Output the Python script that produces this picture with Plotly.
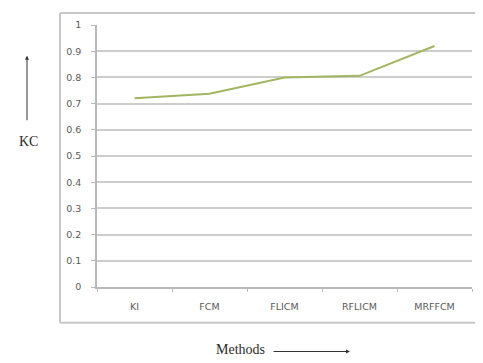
import plotly.graph_objects as go

methods = ["KI", "FCM", "FLICM", "RFLICM", "MRFFCM"]
kc_values = [0.72, 0.738, 0.80, 0.806, 0.92]
y_ticks = [0, 0.1, 0.2, 0.3, 0.4, 0.5, 0.6, 0.7, 0.8, 0.9, 1]
y_tick_text = ["0", "0.1", "0.2", "0.3", "0.4", "0.5", "0.6", "0.7", "0.8", "0.9", "1"]

OFF = 8  # page body margin
W, H = 483 - OFF, 363 - OFF
L, T = 97 - OFF, 23 - OFF
R = W - (472 - OFF)
B = H - (287 - OFF)
pw, ph = W - L - R, H - T - B

def px(x):
    return (x - OFF - L) / pw

def py(y):
    return (H - B - (y - OFF)) / ph

tick_font = dict(family="DejaVu Sans", size=9.5, color="#5a5a5a")
serif = dict(family="Liberation Serif, Times New Roman", size=14, color="#2a2a2a")
frame_line = dict(color="#c8c8c8", width=2)

fig = go.Figure()
fig.add_trace(go.Scatter(
    x=methods, y=kc_values, mode="lines",
    line=dict(color="#a2b660", width=2),
    hoverinfo="skip", showlegend=False,
))

fig.update_layout(
    width=W, height=H,
    margin=dict(l=L, r=R, t=T, b=B),
    paper_bgcolor="white", plot_bgcolor="white",
    xaxis=dict(
        type="category", range=[-0.5, 4.5],
        showgrid=False, showline=True, linecolor="#b8b8b8", linewidth=1.5,
        ticks="outside", tickson="boundaries", ticklen=3, tickcolor="#b8b8b8",
        ticklabelstandoff=10,
        tickfont=tick_font, fixedrange=True,
    ),
    yaxis=dict(
        range=[0, 1], tickvals=y_ticks, ticktext=y_tick_text,
        showgrid=True, gridcolor="#cdcdcd", gridwidth=2,
        showline=True, linecolor="#b8b8b8", linewidth=1.5,
        ticks="outside", ticklen=4, tickcolor="#b8b8b8",
        ticklabelstandoff=8,
        zeroline=False, tickfont=tick_font, fixedrange=True,
    ),
    shapes=[
        dict(type="line", xref="paper", yref="paper",
             x0=px(60), x1=px(483), y0=py(11), y1=py(11), line=frame_line, layer="below"),
        dict(type="line", xref="paper", yref="paper",
             x0=px(60), x1=px(60), y0=py(11), y1=py(323), line=frame_line, layer="below"),
        dict(type="line", xref="paper", yref="paper",
             x0=px(60), x1=px(483), y0=py(323), y1=py(323), line=frame_line, layer="below"),
    ],
    annotations=[
        dict(text="KC", xref="paper", yref="paper", x=px(28), y=py(140),
             xanchor="center", yanchor="middle",
             showarrow=False, font=serif),
        dict(text="", xref="paper", yref="paper", x=px(27), y=py(54),
             ax=0, ay=66, showarrow=True,
             arrowhead=2, arrowsize=0.8, arrowwidth=1, arrowcolor="#333333"),
        dict(text="Methods", xref="paper", yref="paper", x=px(240), y=py(350),
             xanchor="center", yanchor="middle",
             showarrow=False, font=serif),
        dict(text="", xref="paper", yref="paper", x=px(350), y=py(352),
             ax=-78, ay=0, showarrow=True,
             arrowhead=2, arrowsize=0.8, arrowwidth=1, arrowcolor="#333333"),
    ],
)

fig.write_html("out.html")
